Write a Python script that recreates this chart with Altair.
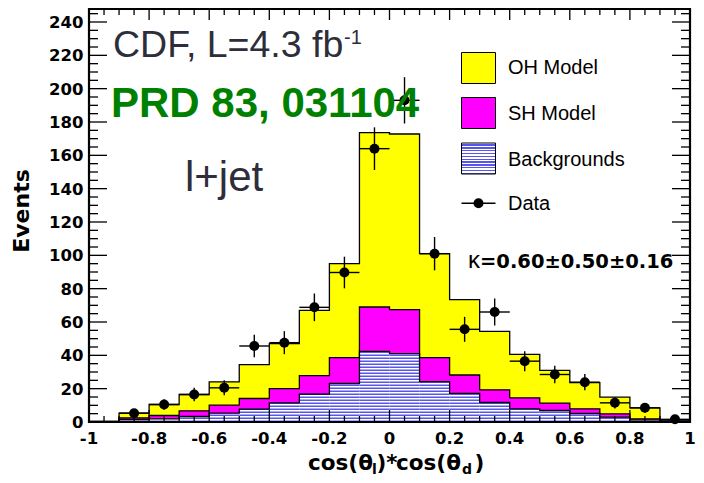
import altair as alt
import pandas as pd

# ---------------- data ----------------
bin_lo = [-1.0, -0.9, -0.8, -0.7, -0.6, -0.5, -0.4, -0.3, -0.2, -0.1,
          0.0, 0.1, 0.2, 0.3, 0.4, 0.5, 0.6, 0.7, 0.8, 0.9]
bin_hi_last = 1.0
oh_top = [0.4, 5.3, 10.5, 16.5, 24.1, 34.4, 47.0, 67.0, 95.0, 173.6,
          172.8, 101.0, 73.4, 54.4, 40.6, 31.0, 23.6, 14.9, 8.5, 1.2]
sh_top = [0.3, 2.5, 3.9, 6.7, 10.1, 14.1, 20.0, 27.8, 38.6, 69.0,
          67.4, 38.6, 28.2, 19.3, 14.5, 11.3, 7.9, 4.9, 1.9, 0.8]
bkg_top = [0.2, 1.5, 1.9, 3.3, 5.3, 7.7, 11.5, 16.7, 23.1, 42.4,
           41.0, 24.2, 17.2, 11.7, 7.9, 6.9, 5.1, 2.9, 1.3, 0.5]

data_x = [-0.85, -0.75, -0.65, -0.55, -0.45, -0.35, -0.25, -0.15, -0.05,
          0.05, 0.15, 0.25, 0.35, 0.45, 0.55, 0.65, 0.75, 0.85, 0.95]
data_y = [5.3, 10.5, 16.5, 20.5, 45.6, 47.6, 68.8, 89.7, 164.0,
          193.0, 101.0, 55.6, 66.0, 36.5, 28.5, 23.9, 11.5, 8.5, 1.6]
data_err = [2.3, 3.2, 4.1, 4.5, 6.8, 6.9, 8.3, 9.5, 12.8,
            13.9, 10.0, 7.5, 8.1, 6.0, 5.3, 4.9, 3.4, 2.9, 1.2]

x_tick_values = [-1, -0.8, -0.6, -0.4, -0.2, 0, 0.2, 0.4, 0.6, 0.8, 1]
x_tick_text = ["-1", "-0.8", "-0.6", "-0.4", "-0.2", "0", "0.2", "0.4", "0.6", "0.8", "1"]
y_tick_values = [0, 20, 40, 60, 80, 100, 120, 140, 160, 180, 200, 220, 240]
y_tick_text = [str(v) for v in y_tick_values]

legend_labels = ["OH Model", "SH Model", "Backgrounds", "Data"]

# ---------------- layout / style ----------------
W, H = 601, 413
YMAX = 247.8
OX, OY = 89, 9          # page position of the plot origin
YELLOW = "#ffff00"
MAGENTA = "#ff00ff"
HATCH = "#5656ee"
DARK = "#2e2e3a"
GREEN = "#008000"
SANS = "Liberation Sans"
WIDE = "DejaVu Sans"

xs = alt.Scale(domain=[-1, 1], nice=False, zero=False)
ys = alt.Scale(domain=[0, YMAX], nice=False, zero=False)


def step_df(tops):
    return pd.DataFrame({"x": bin_lo + [bin_hi_last], "y": tops + [tops[-1]]})


oh_df, sh_df, bk_df = step_df(oh_top), step_df(sh_top), step_df(bkg_top)


def area(df, color):
    return alt.Chart(df).mark_area(interpolate="step-after", color=color, opacity=1).encode(
        x=alt.X("x:Q", scale=xs, axis=None),
        y=alt.Y("y:Q", scale=ys, axis=None, stack=None),
    )


def outline(df, width=1.3):
    return alt.Chart(df).mark_line(interpolate="step-after", color="black", strokeWidth=width).encode(
        x=alt.X("x:Q", scale=xs, axis=None), y=alt.Y("y:Q", scale=ys, axis=None))


# hatching for the backgrounds: horizontal lines on a fixed period
period = 1.8
rows = []
for lo, top in zip(bin_lo, bkg_top):
    k = 0
    while k * period + 0.45 < top:
        rows.append({"lo": lo, "hi": round(lo + 0.1, 3), "y": k * period + 0.45})
        k += 1
hatch_df = pd.DataFrame(rows)
hatch = alt.Chart(hatch_df).mark_rule(color=HATCH, strokeWidth=1.5).encode(
    x=alt.X("lo:Q", scale=xs, axis=None), x2="hi:Q", y=alt.Y("y:Q", scale=ys, axis=None))

pts_df = pd.DataFrame({"x": data_x, "y": data_y, "e": data_err})
base_pts = alt.Chart(pts_df).transform_calculate(
    lo="datum.x - 0.05", hi="datum.x + 0.05",
    ylo="datum.y - datum.e", yhi="datum.y + datum.e")
hbar = base_pts.mark_rule(color="black", strokeWidth=1.4).encode(
    x=alt.X("lo:Q", scale=xs, axis=None), x2="hi:Q", y=alt.Y("y:Q", scale=ys, axis=None))
vbar = base_pts.mark_rule(color="black", strokeWidth=1.4).encode(
    x=alt.X("x:Q", scale=xs, axis=None), y=alt.Y("ylo:Q", scale=ys, axis=None), y2="yhi:Q")
dots = base_pts.mark_circle(color="black", opacity=1, size=100).encode(
    x=alt.X("x:Q", scale=xs, axis=None), y=alt.Y("y:Q", scale=ys, axis=None))

# tick marks drawn inside the frame
y_major = pd.DataFrame({"v": [v for v in range(0, 248, 20)]})
y_minor = pd.DataFrame({"v": [v for v in range(5, 248, 5) if v % 20]})
x_major = pd.DataFrame({"v": [-0.8, -0.6, -0.4, -0.2, 0.0, 0.2, 0.4, 0.6, 0.8]})
x_minor = pd.DataFrame({"v": [round(-1 + 0.05 * i, 2) for i in range(1, 40) if i % 4]})


def yticks(df, x0, x1):
    return alt.Chart(df).mark_rule(color="black", strokeWidth=1.3).encode(
        y=alt.Y("v:Q", scale=ys, axis=None), x=alt.value(x0), x2=alt.value(x1))


def xticks(df, y0, y1):
    return alt.Chart(df).mark_rule(color="black", strokeWidth=1.3).encode(
        x=alt.X("v:Q", scale=xs, axis=None), y=alt.value(y0), y2=alt.value(y1))


ticks = [
    yticks(y_major, 0, 18), yticks(y_minor, 0, 9),
    yticks(y_major, W - 18, W), yticks(y_minor, W - 9, W),
    xticks(x_major, H - 12, H), xticks(x_minor, H - 6, H),
    xticks(x_major, 0, 11), xticks(x_minor, 0, 6),
]

# tick labels drawn through the scales
xlab_df = pd.DataFrame({"v": x_tick_values, "t": x_tick_text})
ylab_df = pd.DataFrame({"v": y_tick_values, "t": y_tick_text})
xlabels = alt.Chart(xlab_df).mark_text(font=WIDE, fontWeight="bold", fontSize=16.5,
                                        color="black", align="center", baseline="alphabetic").encode(
    x=alt.X("v:Q", scale=xs, axis=None), y=alt.value(H + 21.5), text="t:N")
ylabels = alt.Chart(ylab_df).mark_text(font=WIDE, fontWeight="bold", fontSize=16.5,
                                        color="black", align="right", baseline="alphabetic",
                                        dy=6).encode(
    y=alt.Y("v:Q", scale=ys, axis=None), x=alt.value(-5.5), text="t:N")

frame = alt.Chart(pd.DataFrame({"a": [0]})).mark_rect(
    filled=False, stroke="black", strokeWidth=2.2).encode(
    x=alt.value(0), x2=alt.value(W), y=alt.value(0), y2=alt.value(H))

one = pd.DataFrame({"a": [0]})


def txt(s, px, py, size, font=SANS, weight="normal", color="black", align="left", angle=0,
        baseline="alphabetic"):
    return alt.Chart(one).mark_text(text=s, font=font, fontSize=size, fontWeight=weight,
                                    color=color, align=align, angle=angle,
                                    baseline=baseline).encode(
        x=alt.value(px - OX), y=alt.value(py - OY))


texts = [
    txt("CDF, L=4.3 fb", 113, 56.5, 37.5, color=DARK),
    txt("-1", 344, 44, 20, color=DARK),
    txt("PRD 83, 031104", 111, 117, 42, weight="bold", color=GREEN),
    txt("l+jet", 185, 190.5, 42, color=DARK),
    txt("κ", 468, 268, 24, color="black"),
    txt("=0.60±0.50±0.16", 480, 268, 19.5, font=WIDE, weight="bold"),
    # axis titles
    txt("Events", 29, 211, 22, font=WIDE, weight="bold", angle=270, align="center"),
    txt("cos(θ", 308, 469.5, 21.5, font=WIDE, weight="bold"),
    txt("l", 372, 473.5, 14, font=WIDE, weight="bold"),
    txt(")*", 376.5, 469.5, 21.5, font=WIDE, weight="bold"),
    txt("cos(θ", 396, 469.5, 21.5, font=WIDE, weight="bold"),
    txt("d", 462, 473.5, 14, font=WIDE, weight="bold"),
    txt(")", 474.5, 469.5, 21.5, font=WIDE, weight="bold"),
]


def lbox(y0, y1, fill):
    return alt.Chart(one).mark_rect(fill=fill, stroke="black", strokeWidth=1).encode(
        x=alt.value(461.5 - OX), x2=alt.value(495.5 - OX),
        y=alt.value(y0 - OY), y2=alt.value(y1 - OY))


nstripe = 11
stops = []
for i in range(nstripe):
    a, b, c = i / nstripe, (i + 0.5) / nstripe, (i + 1) / nstripe
    stops += [alt.GradientStop(color="white", offset=a), alt.GradientStop(color="white", offset=b),
              alt.GradientStop(color=HATCH, offset=b), alt.GradientStop(color=HATCH, offset=c)]
hatch_grad = alt.LinearGradient(gradient="linear", stops=stops, x1=0, x2=0, y1=0, y2=1)

legend = [
    lbox(52.5, 83.5, YELLOW),
    lbox(97.5, 128.5, MAGENTA),
    lbox(143, 174, hatch_grad),
    alt.Chart(one).mark_rule(color="black", strokeWidth=1.4).encode(
        x=alt.value(461.5 - OX), x2=alt.value(495.5 - OX), y=alt.value(203.3 - OY)),
    alt.Chart(one).mark_circle(color="black", opacity=1, size=100).encode(
        x=alt.value(478.5 - OX), y=alt.value(203.3 - OY)),
    txt(legend_labels[0], 508, 74, 20),
    txt(legend_labels[1], 508, 119.5, 20),
    txt(legend_labels[2], 508, 165.5, 20),
    txt(legend_labels[3], 508, 210, 20),
]

chart = alt.layer(
    area(oh_df, YELLOW), outline(oh_df),
    area(sh_df, MAGENTA), outline(sh_df),
    area(bk_df, "white"), hatch, outline(bk_df),
    hbar, vbar, dots,
    *ticks, frame, xlabels, ylabels, *texts, *legend,
).properties(
    width=W, height=H,
    autosize=alt.AutoSizeParams(type="none"),
    padding={"left": OX - 8, "top": OY - 8, "right": 6, "bottom": 53},
    background="white",
).configure_view(strokeWidth=0)

chart.save("out.html", embed_options={"renderer": "svg", "actions": False})
